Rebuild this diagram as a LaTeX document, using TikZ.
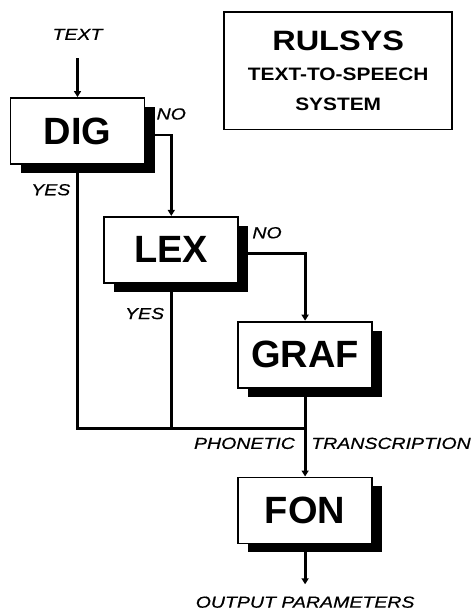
\documentclass[tikz,border=0pt]{standalone}
\usepackage{fontspec}
\setmainfont{Liberation Sans}
\newfontfamily\widefont[FakeStretch=1.16]{Liberation Sans}
\newfontfamily\lblfont[FakeStretch=1.22,FakeBold=0.6]{Liberation Sans}
\usetikzlibrary{arrows.meta,positioning,shadows}

\begin{document}
\begin{tikzpicture}[
  module/.style={draw,line width=1.8pt,fill=white,minimum width=134pt,minimum height=66pt,inner sep=0pt,
    font=\fontsize{38}{40}\selectfont\bfseries,
    drop shadow={shadow xshift=10pt,shadow yshift=-9pt,fill=black,opacity=1}},
  lbl/.style={font=\lblfont\itshape\fontsize{16}{18}\selectfont,inner sep=1pt},
  title/.style={draw,line width=1.6pt,align=center,minimum width=228pt,minimum height=117pt,inner sep=0pt,
    font=\widefont\bfseries\fontsize{18}{30}\selectfont},
  line/.style={line width=2.8pt},
  arr/.style={line width=2.8pt,-{Triangle[length=6pt,width=7pt]}}
]
\useasboundingbox (0pt,0pt) rectangle (472pt,-610pt);

\node[module] (dig) at (77.5pt,-131pt) {DIG};
\node[module,below right=51pt and -42pt of dig] (lex) {LEX};
\node[module,below right=37pt and -2pt of lex] (graf) {GRAF};
\node[module,below=88pt of graf] (fon) {FON};
\coordinate[below=40pt of graf] (join);

\node[title,above right=-33pt and 78pt of dig.north east] (rulsys)
  {{\fontsize{28}{30}\selectfont RULSYS}\\TEXT-TO-SPEECH\\SYSTEM};

\node[lbl,above=56pt of dig] (intext) {TEXT};
\node[lbl,below right=10pt and 10pt of dig.north east] (dig-no) {NO};
\node[lbl,below left=18pt and 6pt of dig.south] (dig-yes) {YES};
\node[lbl,below right=10pt and 12pt of lex.north east] (lex-no) {NO};
\node[lbl,below left=23pt and 6pt of lex.south] (lex-yes) {YES};
\node[lbl,below left=8pt and 9pt of join] (phon) {PHONETIC};
\node[lbl,below right=8pt and 5pt of join] (trans) {TRANSCRIPTION};
\node[lbl,below=51pt of fon] (outp) {OUTPUT PARAMETERS};

\draw[arr,shorten <=17pt] (intext) -- (dig);
\draw[arr] ([yshift=-4pt]dig.east) -| (lex);
\draw[arr] ([yshift=-4pt]lex.east) -| (graf);
\draw[line] (dig) |- (join);
\draw[line] (lex) -- (lex |- join);
\draw[arr] (graf) -- (fon);
\draw[arr,shorten >=11pt] (fon) -- (outp);
\end{tikzpicture}
\end{document}
